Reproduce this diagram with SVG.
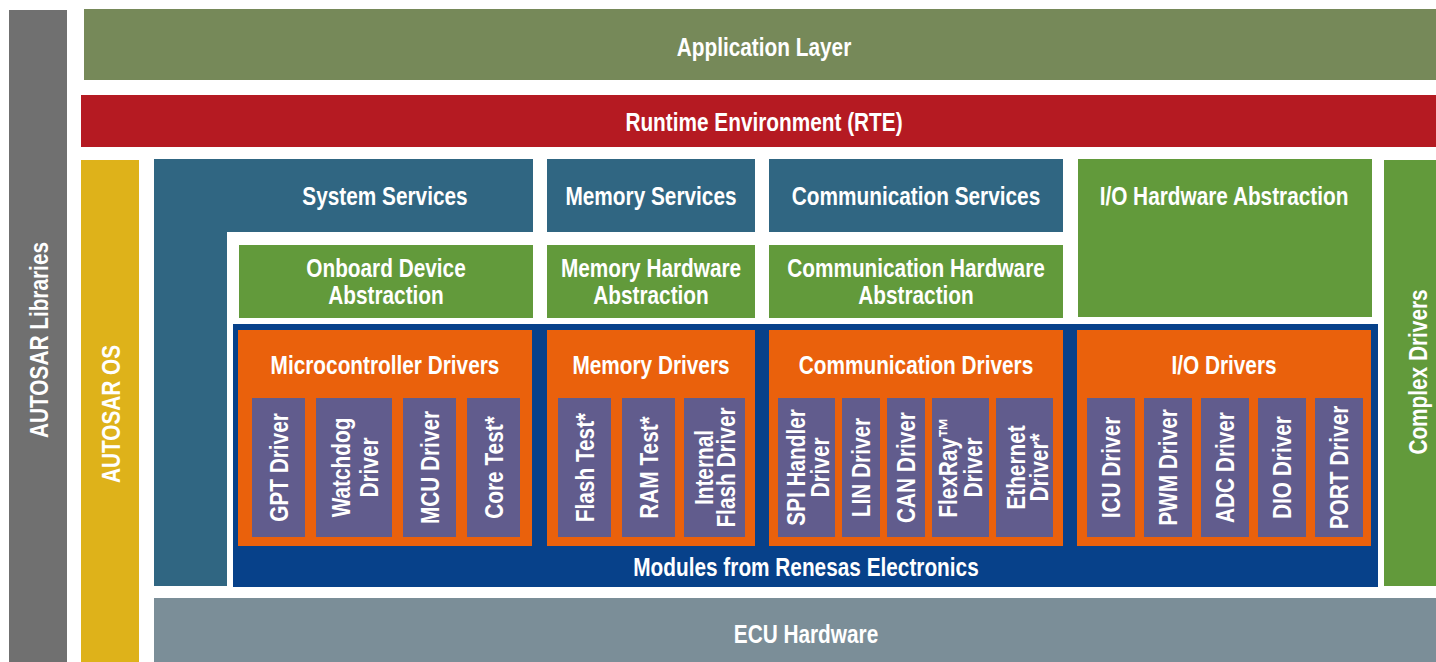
<svg xmlns="http://www.w3.org/2000/svg" width="1436" height="662" viewBox="0 0 1436 662">
<style>
.t{font-family:"Liberation Sans",Arial,sans-serif;font-weight:bold;font-size:26px;fill:#fff;text-anchor:middle}
.gray{fill:#707070}.app{fill:#768959}.rte{fill:#B51A22}.os{fill:#DEB21A}
.svc{fill:#306682}.grn{fill:#629A3B}.navy{fill:#07418A}.org{fill:#EA610C}
.sub{fill:#615C8D}.ecu{fill:#7B8E98}
</style>
<rect width="1436" height="662" fill="#fff"/>
<g id="autosar-libraries"><rect class="gray" x="9" y="10" width="58" height="652"/>
<text class="t" transform="translate(48,340) rotate(-90) scale(.8,1)">AUTOSAR Libraries</text></g>
<g id="application-layer"><rect class="app" x="84" y="9" width="1352" height="71"/>
<text class="t" transform="translate(764,56) scale(.8,1)">Application Layer</text></g>
<g id="rte"><rect class="rte" x="81" y="95" width="1355" height="52"/>
<text class="t" transform="translate(764,131) scale(.8,1)">Runtime Environment (RTE)</text></g>
<g id="autosar-os"><rect class="os" x="81" y="160" width="58" height="502"/>
<text class="t" transform="translate(120,414) rotate(-90) scale(.8,1)">AUTOSAR OS</text></g>
<g id="system-services"><path class="svc" d="M154,159H533V232H227V586H154Z"/>
<text class="t" transform="translate(385,205) scale(.8,1)">System Services</text></g>
<g id="memory-services"><rect class="svc" x="547" y="159" width="208" height="73"/>
<text class="t" transform="translate(651,205) scale(.8,1)">Memory Services</text></g>
<g id="communication-services"><rect class="svc" x="769" y="159" width="294" height="73"/>
<text class="t" transform="translate(916,205) scale(.8,1)">Communication Services</text></g>
<g id="io-hw-abstraction"><rect class="grn" x="1078" y="159" width="294" height="158"/>
<text class="t" transform="translate(1224,205) scale(.8,1)">I/O Hardware Abstraction</text></g>
<g id="onboard-device-abstraction"><rect class="grn" x="239" y="245" width="294" height="73"/>
<text class="t" transform="translate(386,277) scale(.8,1)">Onboard Device</text><text class="t" transform="translate(386,304) scale(.8,1)">Abstraction</text></g>
<g id="memory-hw-abstraction"><rect class="grn" x="547" y="245" width="208" height="73"/>
<text class="t" transform="translate(651,277) scale(.8,1)">Memory Hardware</text><text class="t" transform="translate(651,304) scale(.8,1)">Abstraction</text></g>
<g id="communication-hw-abstraction"><rect class="grn" x="769" y="245" width="294" height="73"/>
<text class="t" transform="translate(916,277) scale(.8,1)">Communication Hardware</text><text class="t" transform="translate(916,304) scale(.8,1)">Abstraction</text></g>
<g id="renesas-modules"><rect class="navy" x="233" y="324" width="1145" height="263"/>
<text class="t" transform="translate(806,576) scale(.8,1)">Modules from Renesas Electronics</text></g>
<g id="microcontroller-drivers"><rect class="org" x="238" y="330" width="294" height="216"/>
<text class="t" transform="translate(385,374) scale(.8,1)">Microcontroller Drivers</text>
<rect class="sub" x="252" y="398" width="53" height="139"/>
<rect class="sub" x="316" y="398" width="76" height="139"/>
<rect class="sub" x="403" y="398" width="53" height="139"/>
<rect class="sub" x="467" y="398" width="53" height="139"/>
<text class="t" transform="translate(288,467.5) rotate(-90) scale(.8,1)">GPT Driver</text>
<text class="t" transform="translate(350,467.5) rotate(-90) scale(.8,1)">Watchdog</text>
<text class="t" transform="translate(378,467.5) rotate(-90) scale(.8,1)">Driver</text>
<text class="t" transform="translate(439,467.5) rotate(-90) scale(.8,1)">MCU Driver</text>
<text class="t" transform="translate(503,467.5) rotate(-90) scale(.8,1)">Core Test*</text></g>
<g id="memory-drivers"><rect class="org" x="547" y="330" width="208" height="216"/>
<text class="t" transform="translate(651,374) scale(.8,1)">Memory Drivers</text>
<rect class="sub" x="558" y="398" width="53" height="139"/>
<rect class="sub" x="622" y="398" width="53" height="139"/>
<rect class="sub" x="684" y="398" width="61" height="139"/>
<text class="t" transform="translate(594,467.5) rotate(-90) scale(.8,1)">Flash Test*</text>
<text class="t" transform="translate(658,467.5) rotate(-90) scale(.8,1)">RAM Test*</text>
<text class="t" transform="translate(713,467.5) rotate(-90) scale(.8,1)">Internal</text>
<text class="t" transform="translate(735,467.5) rotate(-90) scale(.8,1)">Flash Driver</text></g>
<g id="communication-drivers"><rect class="org" x="769" y="330" width="294" height="216"/>
<text class="t" transform="translate(916,374) scale(.8,1)">Communication Drivers</text>
<rect class="sub" x="778" y="398" width="57" height="139"/>
<rect class="sub" x="842" y="398" width="38" height="139"/>
<rect class="sub" x="887" y="398" width="38" height="139"/>
<rect class="sub" x="932" y="398" width="57" height="139"/>
<rect class="sub" x="996" y="398" width="57" height="139"/>
<text class="t" transform="translate(805,467.5) rotate(-90) scale(.8,1)">SPI Handler</text>
<text class="t" transform="translate(829,467.5) rotate(-90) scale(.8,1)">Driver</text>
<text class="t" transform="translate(870,467.5) rotate(-90) scale(.8,1)">LIN Driver</text>
<text class="t" transform="translate(915,467.5) rotate(-90) scale(.8,1)">CAN Driver</text>
<text class="t" transform="translate(957,467.5) rotate(-90) scale(.8,1)">FlexRay™</text>
<text class="t" transform="translate(982,467.5) rotate(-90) scale(.8,1)">Driver</text>
<text class="t" transform="translate(1025,467.5) rotate(-90) scale(.8,1)">Ethernet</text>
<text class="t" transform="translate(1048,467.5) rotate(-90) scale(.8,1)">Driver*</text></g>
<g id="io-drivers"><rect class="org" x="1077" y="330" width="294" height="216"/>
<text class="t" transform="translate(1224,374) scale(.8,1)">I/O Drivers</text>
<rect class="sub" x="1087" y="398" width="48" height="139"/>
<rect class="sub" x="1144" y="398" width="48" height="139"/>
<rect class="sub" x="1201" y="398" width="48" height="139"/>
<rect class="sub" x="1258" y="398" width="48" height="139"/>
<rect class="sub" x="1315" y="398" width="48" height="139"/>
<text class="t" transform="translate(1120,467.5) rotate(-90) scale(.8,1)">ICU Driver</text>
<text class="t" transform="translate(1177,467.5) rotate(-90) scale(.8,1)">PWM Driver</text>
<text class="t" transform="translate(1234,467.5) rotate(-90) scale(.8,1)">ADC Driver</text>
<text class="t" transform="translate(1291,467.5) rotate(-90) scale(.8,1)">DIO Driver</text>
<text class="t" transform="translate(1348,467.5) rotate(-90) scale(.8,1)">PORT Driver</text></g>
<g id="complex-drivers"><rect class="grn" x="1384" y="160" width="52" height="426"/>
<text class="t" transform="translate(1427,372) rotate(-90) scale(.8,1)">Complex Drivers</text></g>
<g id="ecu-hardware"><rect class="ecu" x="154" y="598" width="1282" height="64"/>
<text class="t" transform="translate(806,643) scale(.8,1)">ECU Hardware</text></g>
<g id="connectors"></g>
</svg>
